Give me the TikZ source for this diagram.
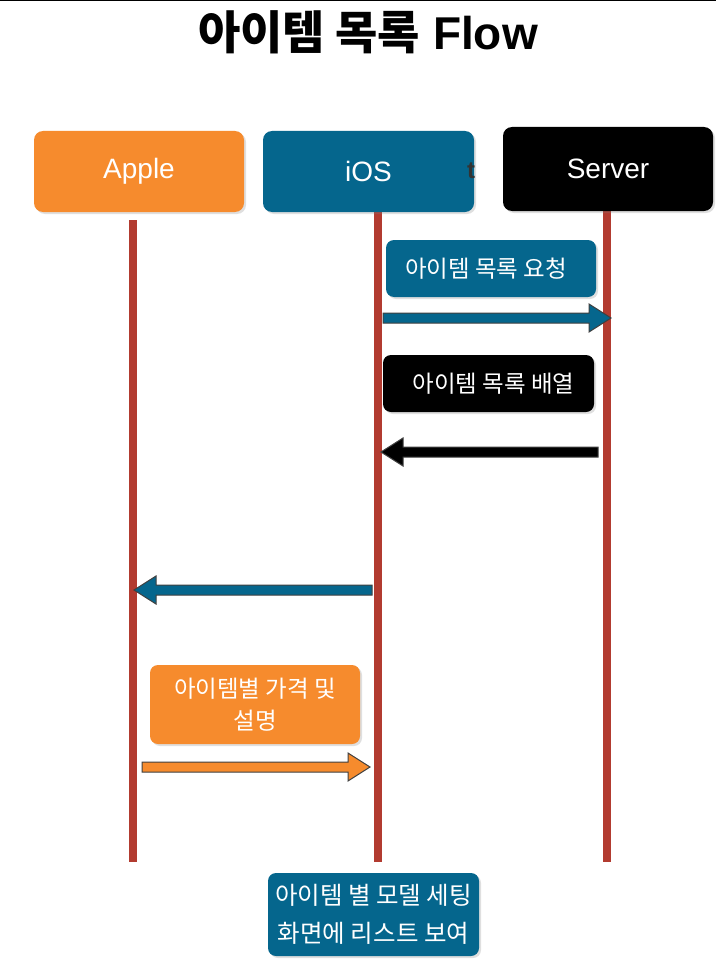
\documentclass[tikz,border=0pt]{standalone}
\usepackage{fontspec}
\setmainfont{Liberation Sans}
\newfontfamily\cjk{Noto Sans CJK KR}
\usetikzlibrary{calc,shadows}
\definecolor{iosblue}{HTML}{05668D}
\definecolor{appleorange}{HTML}{F68B2D}
\definecolor{lifered}{HTML}{B23B30}
\tikzset{
  boxshadow/.style={drop shadow={opacity=0.25,shadow xshift=2pt,shadow yshift=-2pt}},
  headbox/.style={rounded corners=9pt,text=white,minimum width=210pt,minimum height=81pt,
    font=\fontsize{28}{32}\selectfont,inner sep=0pt,boxshadow},
  msgbox/.style={rounded corners=8pt,text=white,font=\cjk\fontsize{23.5}{32}\selectfont,
    inner sep=0pt,align=center,minimum width=210pt,boxshadow},
  life/.style={lifered,line width=8pt},
  barrow/.style={line width=1pt,line join=miter,draw=black!75}
}
\newcommand\blockarr[4]{%
  \draw[barrow,#1] ($(#2)+(0,-5)$) -- ($(#3)+({-1*(#4)},-5)$) -- ($(#3)+({-1*(#4)},-14)$)
    -- (#3) -- ($(#3)+({-1*(#4)},14)$) -- ($(#3)+({-1*(#4)},5)$) -- ($(#2)+(0,5)$) -- cycle;}
\begin{document}
\begin{tikzpicture}[x=1pt,y=-1pt]
\useasboundingbox[fill=white] (0,0) rectangle (716,963);
\draw[line width=1.5pt] (0,0.75) -- (716,0.75);
\node[font=\fontsize{46}{50}\selectfont] (title) at (368,32) {{\cjk\bfseries 아이템 목록} {\bfseries Flow}};
% lifelines
\coordinate (la1) at (133,220); \coordinate (la2) at (133,862);
\coordinate (li1) at (378,212); \coordinate (li2) at (378,862);
\coordinate (ls1) at (607,211); \coordinate (ls2) at (607,862);
\draw[life] (la1) -- (la2);
\draw[life] (li1) -- (li2);
\draw[life] (ls1) -- (ls2);
% headers
\node[headbox,fill=appleorange] (apple) at (139,171.5) {Apple};
\node[headbox,fill=iosblue,minimum width=211pt] (ios) at (368.5,171.5) {iOS};
\node[headbox,fill=black,minimum height=84pt] (server) at (608,169) {Server};
\node[font=\bfseries\fontsize{24}{26}\selectfont,text=black!80,inner sep=0pt] (frag) at (471,171) {t};
% messages
\node[msgbox,fill=iosblue,minimum height=57pt] (req) at (491,268.5) {\hspace*{-10pt}아이템 목록 요청};
\coordinate (r1a) at (383,318); \coordinate (r1b) at (611,318);
\blockarr{fill=iosblue}{r1a}{r1b}{22}
\node[msgbox,fill=black,minimum width=211pt,minimum height=57pt] (arr) at (488.5,383.5) {\hspace*{10pt}아이템 목록 배열};
\coordinate (r2a) at (598,452); \coordinate (r2b) at (381,452);
\blockarr{fill=black}{r2a}{r2b}{-22}
\coordinate (r3a) at (372,590); \coordinate (r3b) at (134,590);
\blockarr{fill=iosblue}{r3a}{r3b}{-22}
\node[msgbox,fill=appleorange,minimum height=79pt] (price) at (255,704.5) {아이템별 가격 및\\설명};
\coordinate (r4a) at (142,767); \coordinate (r4b) at (370,767);
\blockarr{fill=appleorange}{r4a}{r4b}{22}
\node[msgbox,fill=iosblue,minimum width=211pt,minimum height=83pt,font=\cjk\fontsize{24.5}{38}\selectfont] (list) at (373.5,914.5) {아이템 별 모델 세팅\\화면에 리스트 보여};
\end{tikzpicture}
\end{document}
